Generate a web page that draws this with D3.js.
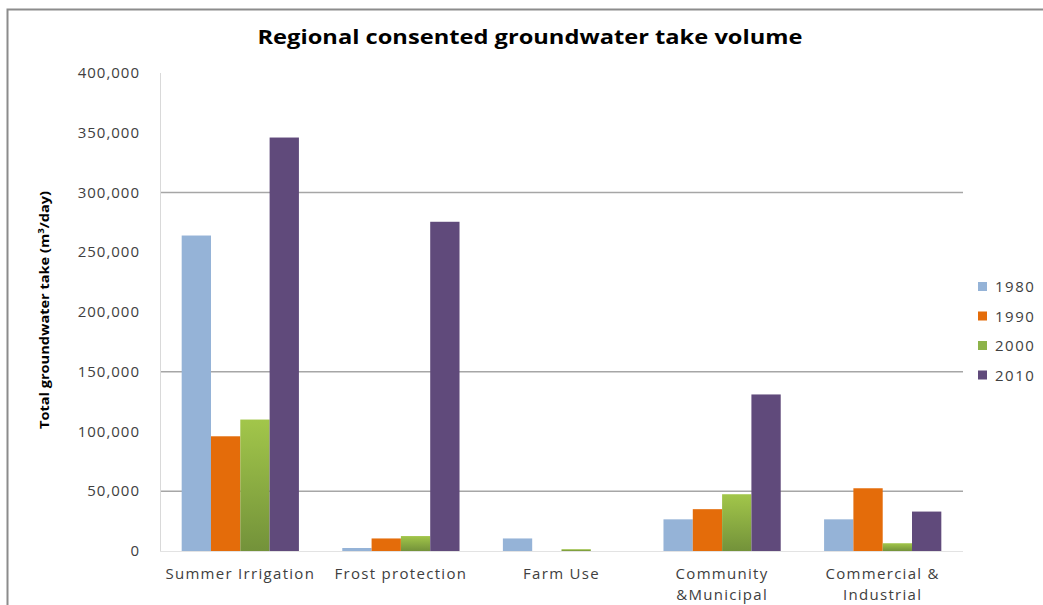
<!DOCTYPE html>
<html>
<head>
<meta charset="utf-8">
<style>
  body { margin: 0; background: #fff; }
  svg text { font-family: 'Open Sans', 'DejaVu Sans', sans-serif; }
  .title { font-size: 20px; font-weight: 700; fill: #000; }
  .ytick { font-size: 15px; fill: #404040; text-anchor: end; letter-spacing: 1px; }
  .xlabel { font-size: 15px; fill: #404040; text-anchor: middle; letter-spacing: 1.3px; }
  .ytitle { font-size: 12px; font-weight: 700; fill: #000; text-anchor: middle; }
  .legend text { font-size: 15px; fill: #404040; letter-spacing: 1.5px; }
</style>
</head>
<body>
<div id="chart"></div>
<script src="https://d3js.org/d3.v7.min.js"></script>
<script>
// values, m3/day
var categories = [["Summer Irrigation"], ["Frost protection"], ["Farm Use"], ["Community", "&Municipal"], ["Commercial &", "Industrial"]];
var years = ["1980", "1990", "2000", "2010"];
var v1980 = [264000, 2500, 10500, 26500, 26500];
var v1990 = [96000, 10500, 0, 35000, 52500];
var v2000 = [110000, 12500, 1500, 47500, 6500];
var v2010 = [346000, 275500, 0, 131000, 33000];
var yTicks = [0, 50000, 100000, 150000, 200000, 250000, 300000, 350000, 400000];
var gridValues = [50000, 150000, 300000];
var colors = ["#95b3d7", "#e46c0a", "url(#green)", "#604a7b"];
var legendColors = ["#95b3d7", "#e46c0a", "#8db34a", "#604a7b"];

var series = [v1980, v1990, v2000, v2010];
var width = 1043, height = 605;
var plotL = 160, plotR = 963, plotT = 73, plotB = 551;

var svg = d3.select("#chart").append("svg")
  .attr("width", width)
  .attr("height", height);

var grad = svg.append("defs").append("linearGradient")
  .attr("id", "green").attr("x1", 0).attr("y1", 0).attr("x2", 0).attr("y2", 1);
grad.append("stop").attr("offset", "0%").attr("stop-color", "#a2c64a");
grad.append("stop").attr("offset", "100%").attr("stop-color", "#73923a");

// outer frame
svg.append("path")
  .attr("d", "M7.5," + height + "V9.5H" + width)
  .attr("fill", "none").attr("stroke", "#8c8c8c").attr("stroke-width", 2);

var y = d3.scaleLinear().domain([0, 400000]).range([plotB, plotT]);
var x0 = d3.scaleBand().domain(d3.range(categories.length)).range([plotL, plotR]).paddingInner(0.27).paddingOuter(0.135);
var x1 = d3.scaleBand().domain(d3.range(years.length)).range([0, x0.bandwidth()]);

svg.append("text").attr("class", "title")
  .attr("x", 530).attr("y", 44).attr("text-anchor", "middle")
  .attr("textLength", 545).attr("lengthAdjust", "spacingAndGlyphs")
  .text("Regional consented groundwater take  volume");

// grid
svg.append("g").selectAll("line").data(gridValues).enter().append("line")
  .attr("x1", plotL).attr("x2", plotR)
  .attr("y1", function(d) { return y(d); }).attr("y2", function(d) { return y(d); })
  .attr("stroke", "#a6a6a6").attr("stroke-width", 1.5);

// axes lines
svg.append("line").attr("x1", plotL + 0.5).attr("x2", plotL + 0.5).attr("y1", plotT).attr("y2", plotB)
  .attr("stroke", "#d9d9d9");
svg.append("line").attr("x1", plotL).attr("x2", plotR).attr("y1", plotB + 0.5).attr("y2", plotB + 0.5)
  .attr("stroke", "#e3e3e3");

svg.append("g").selectAll("text").data(yTicks).enter().append("text")
  .attr("class", "ytick")
  .attr("x", 140).attr("y", function(d) { return y(d) + 5; })
  .text(function(d) { return d3.format(",")(d); });

svg.append("text").attr("class", "ytitle")
  .attr("transform", "translate(49,310) rotate(-90)")
  .attr("textLength", 238).attr("lengthAdjust", "spacingAndGlyphs")
  .html("Total groundwater take (m<tspan dy='-5' font-size='8'>3</tspan><tspan dy='5'>/day)</tspan>");

// bars
var groups = svg.append("g").selectAll("g").data(series).enter().append("g")
  .attr("fill", function(d, i) { return colors[i]; });
groups.each(function(vals, si) {
  d3.select(this).selectAll("rect").data(vals).enter().append("rect")
    .attr("x", function(d, ci) { return x0(ci) + x1(si); })
    .attr("width", x1.bandwidth())
    .attr("y", function(d) { return y(d); })
    .attr("height", function(d) { return plotB - y(d); });
});

// category labels
var xl = svg.append("g").selectAll("text").data(categories).enter().append("text")
  .attr("class", "xlabel")
  .attr("y", 579);
xl.each(function(lines, i) {
  var t = d3.select(this);
  lines.forEach(function(s, j) {
    t.append("tspan").attr("x", x0(i) + x0.bandwidth() / 2).attr("dy", j ? 21 : 0).text(s);
  });
});

// legend
var lg = svg.append("g").attr("class", "legend").selectAll("g").data(years).enter().append("g")
  .attr("transform", function(d, i) { return "translate(978," + (287 + i * 29.5) + ")"; });
lg.append("rect").attr("x", 0).attr("y", -5).attr("width", 9).attr("height", 9)
  .attr("fill", function(d, i) { return legendColors[i]; });
lg.append("text").attr("x", 17).attr("y", 5).text(function(d) { return d; });
</script>
</body>
</html>
